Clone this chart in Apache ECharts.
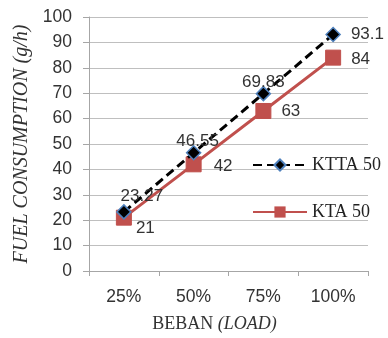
<!DOCTYPE html>
<html><head><meta charset="utf-8">
<script src="https://cdn.jsdelivr.net/npm/echarts@6/dist/echarts.min.js"></script>
<style>html,body{margin:0;padding:0;background:#fff}#c{width:388px;height:338px}</style>
</head><body><div id="c"></div>
<script>
const categories = ['25%', '50%', '75%', '100%'];
const ktta = [23.27, 46.55, 69.83, 93.1];
const kta = [21, 42, 63, 84];
const kttaLabels = ['23.27', '46.55', '69.83', '93.1'];
const ktaLabels = ['21', '42', '63', '84'];

const chart = echarts.init(document.getElementById('c'), null, {renderer: 'canvas'});
const sans = 'Liberation Sans';
const serif = 'Liberation Serif';
const kttaPos = ['top', 'top', 'top', 'right'];
const kttaOff = [[18, 6], [4, 10], [0, 10], [5, 0]];
const ktaPos = ['right', 'right', 'right', 'right'];
const ktaOff = [[-1, 11], [7, 2], [5, 0], [5, 2]];
chart.setOption({
  animation: false,
  grid: {left: 89, right: 20, top: 17, bottom: 65.5},
  legend: {
    orient: 'vertical', left: 247, top: 151, itemGap: 29,
    itemWidth: 54, itemHeight: 14,
    textStyle: {fontFamily: serif, fontSize: 18, color: '#222'},
    data: ['KTTA 50', 'KTA 50']
  },
  xAxis: {
    type: 'category', data: categories, boundaryGap: true,
    axisLine: {lineStyle: {color: '#a6a6a6'}},
    axisTick: {show: true, length: 5, lineStyle: {color: '#a6a6a6'}},
    axisLabel: {fontFamily: sans, fontSize: 17.5, color: '#333', margin: 17},
    name: '{a|BEBAN }{b|(LOAD)}', nameLocation: 'middle', nameGap: 44,
    nameTextStyle: {padding: [0, 28, 0, 0], rich: {
      a: {fontFamily: serif, fontSize: 18, color: '#333'},
      b: {fontFamily: serif, fontSize: 18, fontStyle: 'italic', color: '#333'}
    }}
  },
  yAxis: {
    type: 'value', min: 0, max: 100, interval: 10,
    axisLine: {show: true, lineStyle: {color: '#a6a6a6'}},
    axisTick: {show: true, length: 6, lineStyle: {color: '#a6a6a6'}},
    splitLine: {lineStyle: {color: '#bfbfbf'}},
    axisLabel: {fontFamily: sans, fontSize: 17.5, color: '#333', margin: 17},
    name: 'FUEL CONSUMPTION (g/h)', nameLocation: 'middle', nameGap: 57,
    nameTextStyle: {fontFamily: serif, fontSize: 20, fontStyle: 'italic', color: '#333'}
  },
  series: [
    {
      name: 'KTA 50', type: 'line',
      data: kta.map((v, i) => ({value: v, label: {position: ktaPos[i], offset: ktaOff[i], formatter: ktaLabels[i]}})),
      symbol: 'rect', symbolSize: 15,
      lineStyle: {color: '#C0504D', width: 3},
      itemStyle: {color: '#C0504D', borderColor: '#C0504D'},
      label: {show: true, fontFamily: sans, fontSize: 17, color: '#333'},
      z: 2
    },
    {
      name: 'KTTA 50', type: 'line',
      data: ktta.map((v, i) => ({value: v, label: {position: kttaPos[i], offset: kttaOff[i], formatter: kttaLabels[i]}})),
      symbol: 'diamond', symbolSize: 14,
      lineStyle: {color: '#000', width: 3, type: [9, 5]},
      itemStyle: {color: '#000', borderColor: '#4F81BD', borderWidth: 1.5},
      label: {show: true, fontFamily: sans, fontSize: 17, color: '#333'},
      z: 3
    }
  ]
});
</script></body></html>
